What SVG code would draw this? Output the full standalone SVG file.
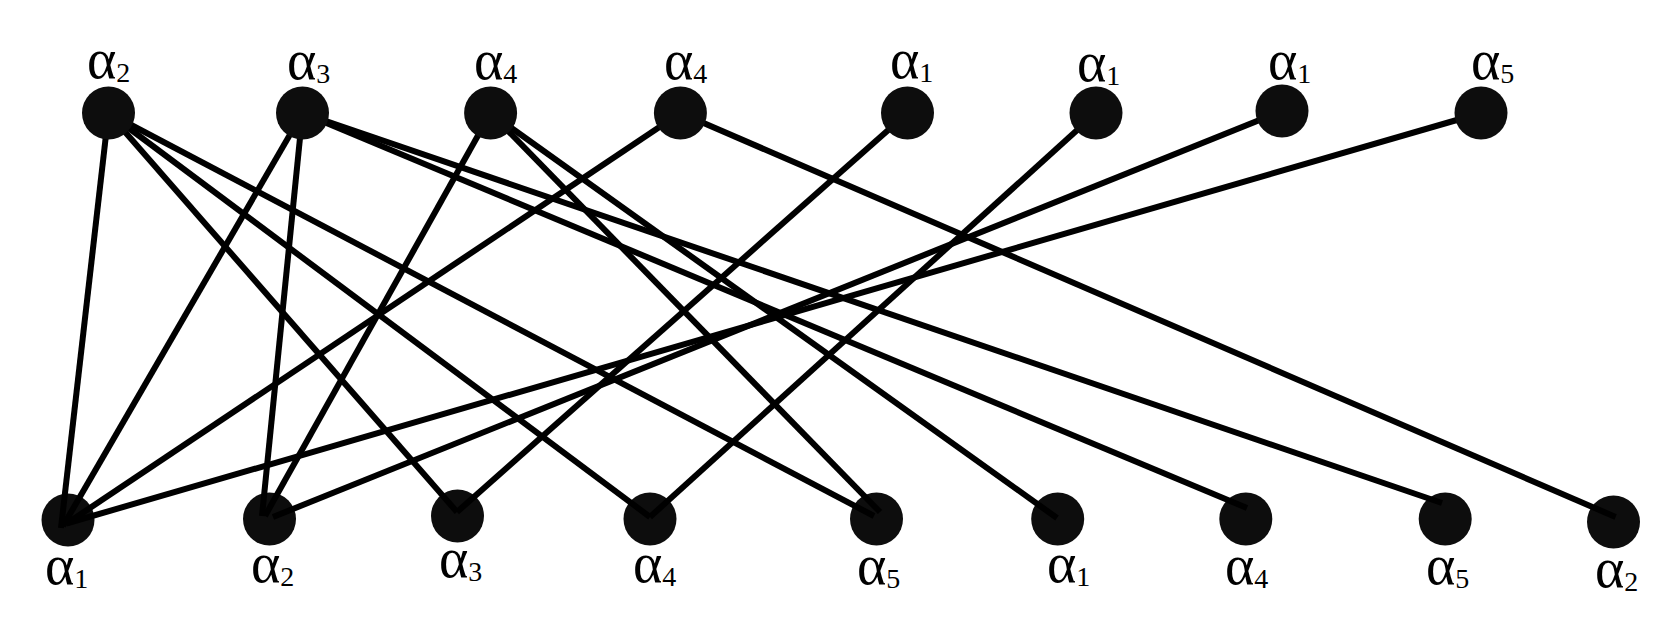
<svg xmlns="http://www.w3.org/2000/svg" width="1676" height="620" viewBox="0 0 1676 620">
<style>
.n{fill:#0d0d0d}
.e line{stroke:#000;stroke-width:6;stroke-linecap:butt}
.l{font-family:"Liberation Serif","Times New Roman",serif;font-size:56px;fill:#000}
.s{font-size:28px}
</style>
<rect width="1676" height="620" fill="#fff"/>
<g id="b1"><circle class="n" cx="68" cy="520" r="26.5"/><text class="l" x="45" y="584">α<tspan class="s" dy="4">1</tspan></text></g>
<g id="b2"><circle class="n" cx="269.5" cy="519" r="26.5"/><text class="l" x="251" y="582">α<tspan class="s" dy="4">2</tspan></text></g>
<g id="b3"><circle class="n" cx="457.5" cy="516" r="26.5"/><text class="l" x="439" y="577">α<tspan class="s" dy="4">3</tspan></text></g>
<g id="b4"><circle class="n" cx="650" cy="519" r="26.5"/><text class="l" x="633" y="582">α<tspan class="s" dy="4">4</tspan></text></g>
<g id="b5"><circle class="n" cx="876.5" cy="519" r="26.5"/><text class="l" x="857" y="584">α<tspan class="s" dy="4">5</tspan></text></g>
<g id="b6"><circle class="n" cx="1057.7" cy="519" r="26.5"/><text class="l" x="1047" y="582">α<tspan class="s" dy="4">1</tspan></text></g>
<g id="b7"><circle class="n" cx="1245.8" cy="519" r="26.5"/><text class="l" x="1225" y="584">α<tspan class="s" dy="4">4</tspan></text></g>
<g id="b8"><circle class="n" cx="1445.2" cy="519" r="26.5"/><text class="l" x="1426" y="584">α<tspan class="s" dy="4">5</tspan></text></g>
<g id="b9"><circle class="n" cx="1613.5" cy="522" r="26.5"/><text class="l" x="1595" y="587">α<tspan class="s" dy="4">2</tspan></text></g>
<g id="connectors" class="e">
<line x1="108.5" y1="113" x2="61" y2="528"/>
<line x1="108.5" y1="113" x2="457" y2="512"/>
<line x1="108.5" y1="113" x2="650" y2="517"/>
<line x1="108.5" y1="113" x2="874" y2="516"/>
<line x1="302.5" y1="113" x2="63" y2="526"/>
<line x1="302.5" y1="113" x2="262" y2="516"/>
<line x1="302.5" y1="113" x2="1247" y2="508"/>
<line x1="302.5" y1="113" x2="1442" y2="503"/>
<line x1="490.6" y1="113" x2="265" y2="516"/>
<line x1="490.6" y1="113" x2="880" y2="512"/>
<line x1="490.6" y1="113" x2="1057" y2="518"/>
<line x1="680.4" y1="113" x2="66" y2="524"/>
<line x1="680.4" y1="113" x2="1615.6" y2="517"/>
<line x1="907.5" y1="113" x2="457" y2="512"/>
<line x1="1096" y1="113" x2="650" y2="517"/>
<line x1="1282" y1="111" x2="273" y2="517"/>
<line x1="1481" y1="113" x2="68" y2="523"/>
</g>
<g id="t1"><circle class="n" cx="108.5" cy="113" r="26.5"/><text class="l" x="87" y="78">α<tspan class="s" dy="4">2</tspan></text></g>
<g id="t2"><circle class="n" cx="302.5" cy="113" r="26.5"/><text class="l" x="287" y="79">α<tspan class="s" dy="4">3</tspan></text></g>
<g id="t3"><circle class="n" cx="490.6" cy="113" r="26.5"/><text class="l" x="474" y="79">α<tspan class="s" dy="4">4</tspan></text></g>
<g id="t4"><circle class="n" cx="680.4" cy="113" r="26.5"/><text class="l" x="664" y="79">α<tspan class="s" dy="4">4</tspan></text></g>
<g id="t5"><circle class="n" cx="907.5" cy="113" r="26.5"/><text class="l" x="890" y="78">α<tspan class="s" dy="4">1</tspan></text></g>
<g id="t6"><circle class="n" cx="1096" cy="113" r="26.5"/><text class="l" x="1077" y="81">α<tspan class="s" dy="4">1</tspan></text></g>
<g id="t7"><circle class="n" cx="1282" cy="111" r="26.5"/><text class="l" x="1268" y="79">α<tspan class="s" dy="4">1</tspan></text></g>
<g id="t8"><circle class="n" cx="1481" cy="113" r="26.5"/><text class="l" x="1471" y="79">α<tspan class="s" dy="4">5</tspan></text></g>
</svg>
